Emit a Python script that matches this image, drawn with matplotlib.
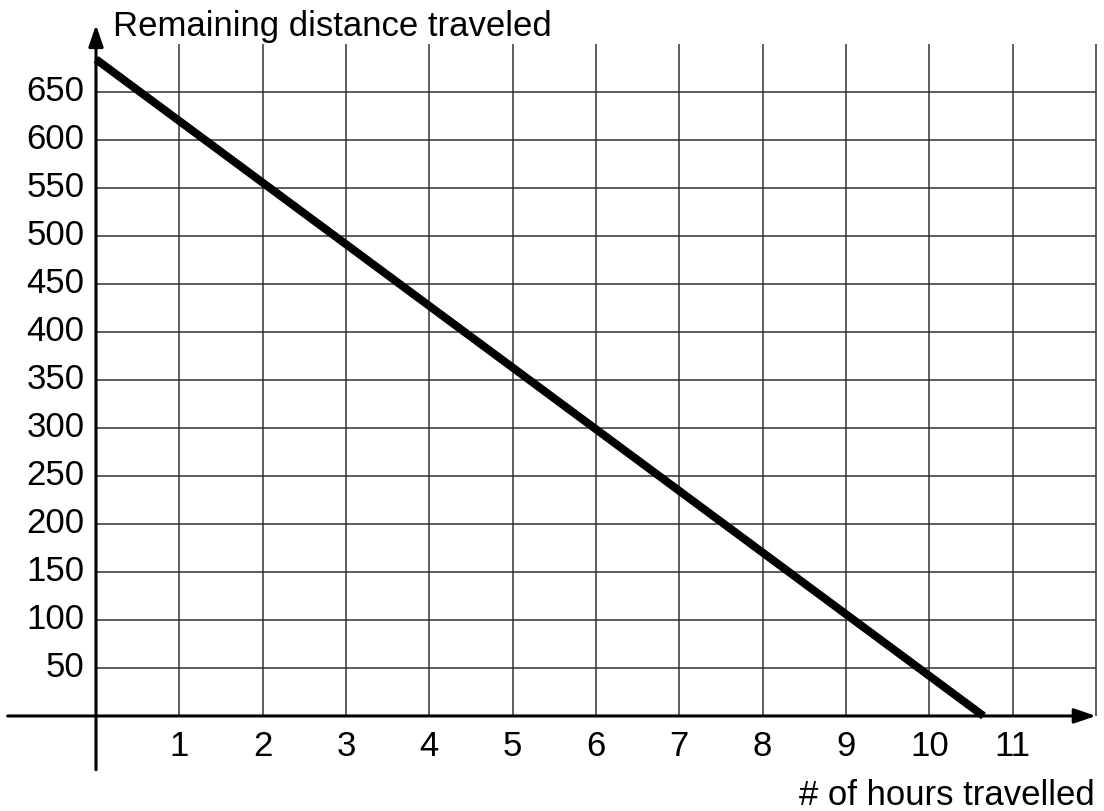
import matplotlib
matplotlib.use("Agg")
import matplotlib.pyplot as plt

# Data
hours = [0, 10.65]
remaining = [684, 0]
x_ticks = [1, 2, 3, 4, 5, 6, 7, 8, 9, 10, 11]
x_grid = [1, 2, 3, 4, 5, 6, 7, 8, 9, 10, 11, 12]
y_ticks = [50, 100, 150, 200, 250, 300, 350, 400, 450, 500, 550, 600, 650]
x_title = "# of hours travelled"
y_title = "Remaining distance traveled"

plt.rcParams['font.family'] = ['Liberation Sans', 'DejaVu Sans']

fig = plt.figure(figsize=(11.04, 8.11), dpi=100)
ax = fig.add_axes([0, 0, 1, 1])
ax.set_xlim(-1.152, 12.096)
ax.set_ylim(-99.0, 745.8)
ax.axis('off')

# Grid
ax.vlines(x_grid, 0, 700, colors='#333333', lw=1.1, zorder=1)
ax.hlines(y_ticks, 0, 12, colors='#333333', lw=1.1, zorder=1)

# Axes with arrows
astyle = '-|>,head_length=0.5,head_width=0.17'
ax.annotate('', xy=(12.0, 0), xytext=(-1.06, 0),
            arrowprops=dict(arrowstyle=astyle, lw=2.2, color='black',
                            mutation_scale=26, shrinkA=0, shrinkB=0), zorder=3)
ax.annotate('', xy=(0, 720), xytext=(0, -56),
            arrowprops=dict(arrowstyle=astyle, lw=2.2, color='black',
                            mutation_scale=26, shrinkA=0, shrinkB=0), zorder=3)

# Main line
ax.plot(hours, remaining, color='black', lw=5.8, solid_capstyle='butt', zorder=4)

# Tick labels
for v in y_ticks:
    ax.text(-0.14, v, str(v), ha='right', va='center', fontsize=25)
for v in x_ticks:
    ax.text(v, -32, str(v), ha='center', va='center', fontsize=25)

ax.text(0.2, 708, y_title, ha='left', va='baseline', fontsize=25)
ax.text(11.99, -83, x_title, ha='right', va='center', fontsize=25)

fig.savefig('out.png', dpi=100)
